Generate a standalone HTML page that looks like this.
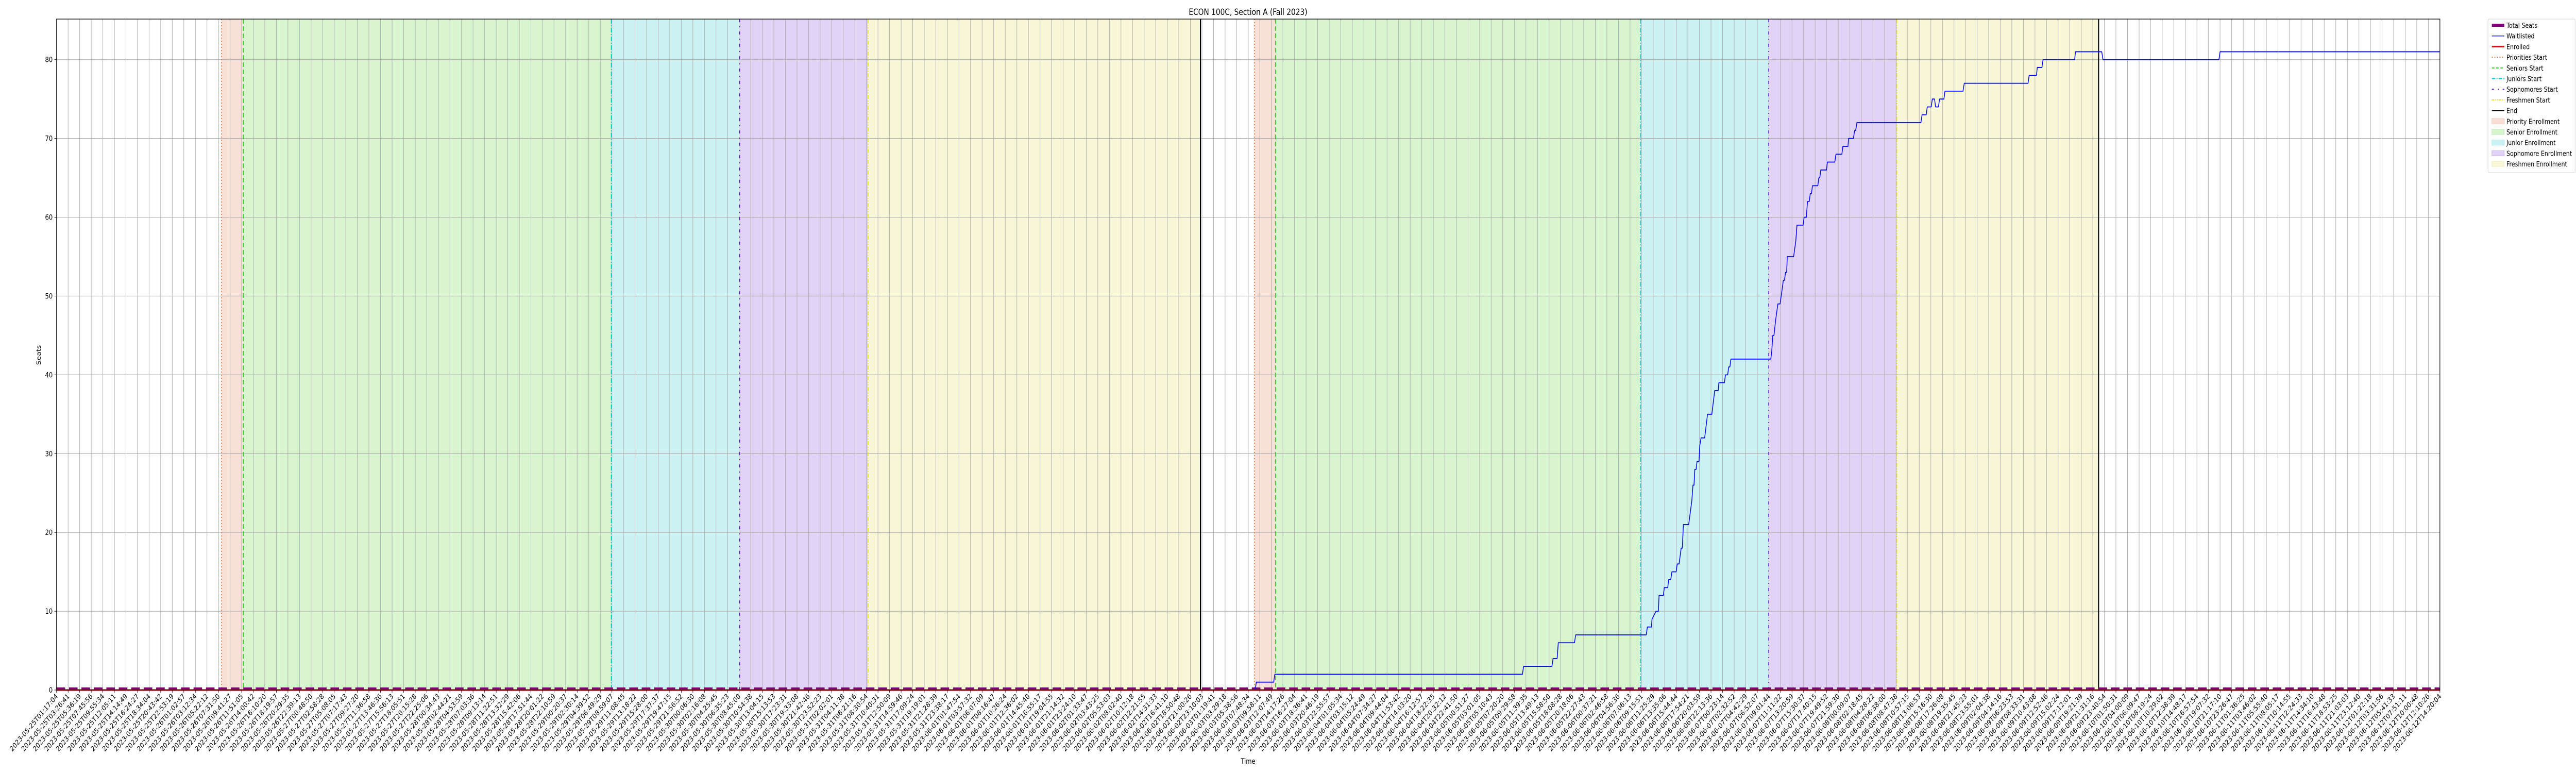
<!DOCTYPE html>
<html><head><meta charset="utf-8"><title>ECON 100C, Section A (Fall 2023)</title>
<style>html,body{margin:0;padding:0;background:#fff;width:100%;height:100%;overflow:hidden;}svg{display:block;width:100vw;height:100vh;font-family:"DejaVu Sans","Liberation Sans",sans-serif;}</style>
</head><body>
<svg id="chart" xmlns="http://www.w3.org/2000/svg" viewBox="0 0 6000 1500" preserveAspectRatio="none">
<rect x="0" y="0" width="6000" height="1500" fill="#fff"/>
<g id="spans"></g><g id="grid"></g><g id="vlines"></g><g id="series"></g><g id="axes"></g><g id="legend"></g>
<text x="2907" y="29" text-anchor="middle" font-size="16.5" fill="#000">ECON 100C, Section A (Fall 2023)</text>
<text x="2907" y="1482" text-anchor="middle" font-size="13.9" fill="#000">Time</text>
<text transform="translate(95,689) rotate(-90)" text-anchor="middle" font-size="13.9" fill="#000">Seats</text>
</svg>
<script>
// ---- data (x in sample-tick index units, y in seats) ----
const tickCount = 207;
const startTime = "2023-05-25T01:17:04";
const endTime = "2023-06-12T14:20:04";
const yTicks = [0,10,20,30,40,50,60,70,80];
const phaseNames = ["priority","senior","junior","sophomore","freshmen"];
const cycle1Starts = [14.26,16.15,47.95,59.04,70.14];
const cycle1End = 98.87;
const cycle2Starts = [103.54,105.36,136.89,147.99,159.05];
const cycle2End = 176.5;
const waitX = [0,103.6,103.7,105.2,105.3,126.7,126.8,129.25,129.35,129.7,129.8,131.2,131.3,137.4,137.5,137.85,137.9,138.25,138.45,138.51,138.88,138.96,139.26,139.34,139.52,139.62,139.99,140.08,140.24,140.42,140.52,140.61,141.07,141.34,141.44,141.53,141.6,141.71,141.79,141.96,142.03,142.14,142.45,142.7,143.07,143.32,143.62,143.68,144.16,144.25,144.44,144.53,144.63,144.72,148.0,148.17,148.25,148.34,148.44,148.59,148.78,148.97,149.16,149.25,149.35,149.44,149.54,149.59,150.14,150.33,150.43,150.96,151.05,151.24,151.34,151.49,151.58,151.68,151.77,152.23,152.32,152.40,152.49,152.98,153.06,153.70,153.80,154.31,154.40,154.84,154.89,155.31,155.41,155.50,155.61,161.14,161.24,161.60,161.69,162.03,162.13,162.32,162.41,162.66,162.75,163.13,163.22,164.78,164.89,170.40,170.5,171.13,171.2,171.6,171.7,174.43,174.5,176.77,176.88,186.9,187.0,206];
const waitY = [0,0,1,1,2,2,3,3,4,4,6,6,7,7,8,8,9,10,10,12,12,13,13,14,14,15,15,16,16,18,18,21,21,24,26,26,28,28,29,29,31,32,32,35,35,38,38,39,39,40,40,41,41,42,42,42,43,45,45,47,49,49,51,52,52,53,53,55,55,57,59,59,60,60,62,62,63,63,64,64,65,65,66,66,67,67,68,68,69,69,70,70,71,71,72,72,73,73,74,74,75,75,74,74,75,75,76,76,77,77,78,78,79,79,80,80,81,81,80,80,81,81];
const enrolledX = [0,206];
const enrolledY = [0,0];
const totalSeatsX = [0,206];
const totalSeatsY = [0,0];

// ---- scales ----
const X0=131.7, X1=5683, Y0=1339, Y1=37, XMAX=206, YMAX=85.15;
const xs = i => X0 + i*(X1-X0)/XMAX;
const ys = v => Y0 - v*(Y0-Y1)/YMAX;
const NS="http://www.w3.org/2000/svg";
function mk(tag, attrs, parent){const e=document.createElementNS(NS,tag);for(const k in attrs)e.setAttribute(k,attrs[k]);parent.appendChild(e);return e;}
const gSpans=document.getElementById('spans'),gGrid=document.getElementById('grid'),gV=document.getElementById('vlines'),gS=document.getElementById('series'),gA=document.getElementById('axes'),gL=document.getElementById('legend');

const spanFill = {priority:"#f8e0d6",senior:"#d9f5d0",junior:"#cdf2f3",sophomore:"#e1d3f5",freshmen:"#f8f8d8"};
const lineStyle = {
 priority:{stroke:"#f07030",dash:"2,4",w:2},
 senior:{stroke:"#33cc22",dash:"9,5",w:2},
 junior:{stroke:"#00c8d0",dash:"9,3,2,3",w:2},
 sophomore:{stroke:"#6020d0",dash:"6,8,2,8",w:2},
 freshmen:{stroke:"#e0e020",dash:"8,3,2,3,2,3",w:2}
};
[[cycle1Starts,cycle1End],[cycle2Starts,cycle2End]].forEach((c,ci)=>{
  const st=c[0], en=c[1];
  for(let k=0;k<5;k++){
    const a=st[k], b=(k<4)?st[k+1]:en;
    const r=mk('rect',{x:xs(a),y:Y1,width:xs(b)-xs(a),height:Y0-Y1,fill:spanFill[phaseNames[k]]},gSpans);
    
    
    const s=lineStyle[phaseNames[k]];
    const l=mk('line',{x1:xs(a),x2:xs(a),y1:Y1,y2:Y0,stroke:s.stroke,'stroke-width':s.w,'stroke-dasharray':s.dash},gV);
    
    
  }
  const e=mk('line',{x1:xs(en),x2:xs(en),y1:Y1,y2:Y0,stroke:"#000",'stroke-width':2.5},gV);
  
  
});

// grid + ticks
function fmt(d){const p=n=>String(n).padStart(2,'0');return d.getUTCFullYear()+'-'+p(d.getUTCMonth()+1)+'-'+p(d.getUTCDate())+'T'+p(d.getUTCHours())+':'+p(d.getUTCMinutes())+':'+p(d.getUTCSeconds());}
const t0=Date.parse(startTime+'Z'), t1=Date.parse(endTime+'Z');
const tickLabels=[];
for(let i=0;i<tickCount;i++){tickLabels.push(fmt(new Date(t0+(t1-t0)*i/(tickCount-1))));}
tickLabels.forEach((lab,i)=>{
  const x=xs(i);
  const g=mk('line',{x1:x,x2:x,y1:Y1,y2:Y0,stroke:"#b0b0b0",'stroke-width':1.2},gGrid);
  
  
  const t=mk('line',{x1:x,x2:x,y1:Y0,y2:Y0+5,stroke:"#000",'stroke-width':1},gA);
  
  
  const tx=mk('text',{transform:`translate(${x+4},${Y0+13}) rotate(-45)`,'text-anchor':'end','font-size':13.9,fill:'#000'},gA);
  tx.textContent=lab;
  
  
});
yTicks.forEach(v=>{
  const y=ys(v);
  const g=mk('line',{x1:X0,x2:X1,y1:y,y2:y,stroke:"#b0b0b0",'stroke-width':1.2},gGrid);
  
  
  const t=mk('line',{x1:X0-5,x2:X0,y1:y,y2:y,stroke:"#000",'stroke-width':1},gA);
  
  
  const tx=mk('text',{x:X0-9,y:y+5,'text-anchor':'end','font-size':13.9,fill:'#000'},gA);
  tx.textContent=String(v);
  
  
});

// series
function pts(xa,ya){return xa.map((x,i)=>xs(x).toFixed(2)+','+ys(ya[i]).toFixed(2)).join(' ');}
const ts=mk('polyline',{points:pts(totalSeatsX,totalSeatsY),fill:'none',stroke:'#800080','stroke-width':6,'stroke-dasharray':'20,9',transform:'translate(0,-2)'},gS);


const wl=mk('polyline',{points:pts(waitX,waitY),fill:'none',stroke:'#0000ff','stroke-width':1.8,'stroke-linejoin':'round'},gS);


const en=mk('polyline',{points:pts(enrolledX,enrolledY),fill:'none',stroke:'#ff0000','stroke-width':3},gS);



// axes frame
const fr=mk('rect',{x:X0,y:Y1,width:X1-X0,height:Y0-Y1,fill:'none',stroke:'#000','stroke-width':1.3},gA);



// legend
const lb=mk('rect',{x:5795,y:37,width:203,height:298,rx:3,fill:'#fff',stroke:'#d0d0d0','stroke-width':1},gL);


const legendLabels=["Total Seats","Waitlisted","Enrolled","Priorities Start","Seniors Start","Juniors Start","Sophomores Start","Freshmen Start","End","Priority Enrollment","Senior Enrollment","Junior Enrollment","Sophomore Enrollment","Freshmen Enrollment"];
const handles=[
 {t:'l',c:'#800080',w:6},{t:'l',c:'#0000ff',w:1.5},{t:'l',c:'#ff0000',w:3},
 {t:'l',c:'#f07030',w:2,d:'2,4'},{t:'l',c:'#33cc22',w:2,d:'6,4'},{t:'l',c:'#00c8d0',w:2,d:'8,3,2,3'},
 {t:'l',c:'#6020d0',w:2,d:'5,9,2,9'},{t:'l',c:'#e0e020',w:2,d:'6,2,2,2,2,2'},{t:'l',c:'#000',w:2},
 {t:'p',c:'#f8e0d6',s:'#f0c8b8'},{t:'p',c:'#d9f5d0',s:'#c0eab4'},{t:'p',c:'#cdf2f3',s:'#b0e8ea'},{t:'p',c:'#e1d3f5',s:'#cdb8ee'},{t:'p',c:'#f8f8d8',s:'#eeeec0'}
];
legendLabels.forEach((lab,i)=>{
  const cy=49+i*20.7;
  const h=handles[i];
  let he;
  if(h.t==='l'){he=mk('line',{x1:5804,x2:5833,y1:cy,y2:cy,stroke:h.c,'stroke-width':h.w},gL);if(h.d)he.setAttribute('stroke-dasharray',h.d);}
  else{he=mk('rect',{x:5804,y:cy-5,width:29,height:10,fill:h.c,stroke:h.s,'stroke-width':1},gL);}
  
  
  const tx=mk('text',{x:5838,y:cy+5,'font-size':13.3,fill:'#000'},gL);
  tx.textContent=lab;
  
  
});
</script>
</body></html>
